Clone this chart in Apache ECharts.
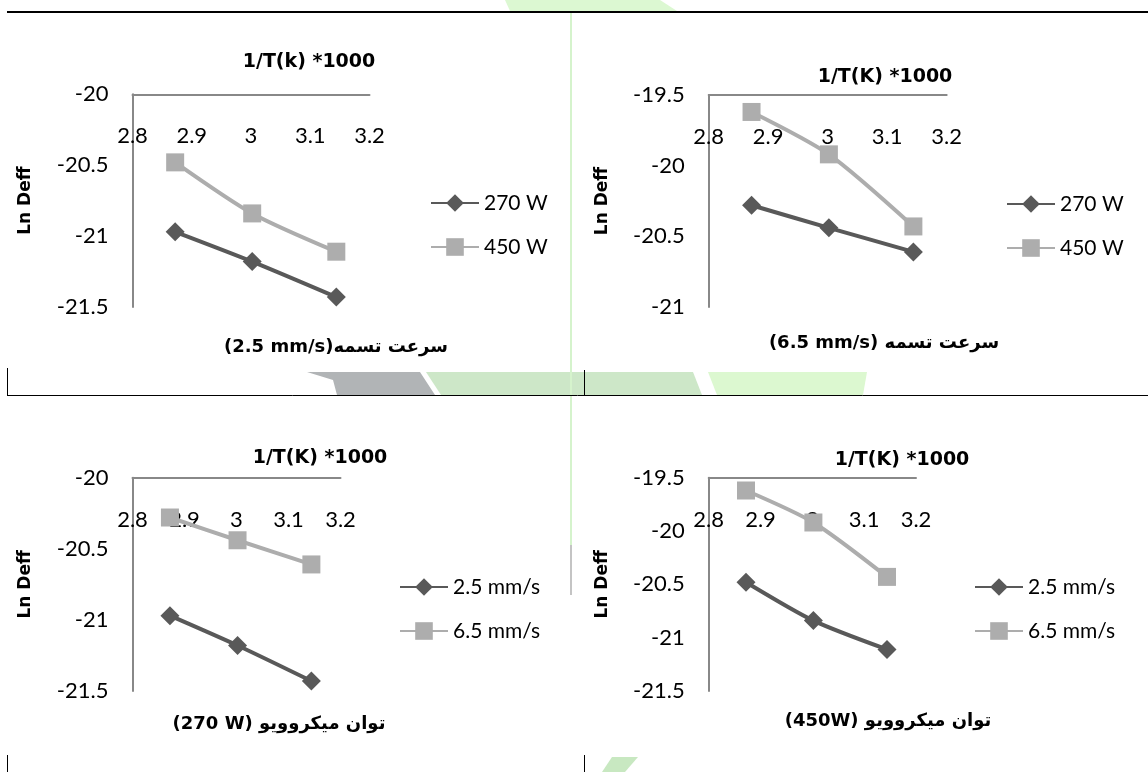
<!DOCTYPE html>
<html>
<head>
<meta charset="utf-8">
<script src="https://cdn.jsdelivr.net/npm/echarts@6/dist/echarts.min.js"></script>
<style>
html,body{margin:0;padding:0;background:#fff;}
#c{width:1148px;height:772px;}
</style>
</head>
<body>
<div id="c"></div>
<script>
// ---- data ----
const xTicks = [2.8, 2.9, 3.0, 3.1, 3.2];
const xValues = [2.872, 3.002, 3.144];          // 1/T(K)*1000
const p270_v25 = [-20.97, -21.18, -21.43];      // 270 W, belt 2.5 mm/s
const p450_v25 = [-20.48, -20.84, -21.11];      // 450 W, belt 2.5 mm/s
const p270_v65 = [-20.28, -20.44, -20.61];      // 270 W, belt 6.5 mm/s
const p450_v65 = [-19.62, -19.92, -20.43];      // 450 W, belt 6.5 mm/s
const yRanges = [[-21.5, -20], [-21, -19.5], [-21.5, -20], [-21.5, -19.5]];
const xTitles = ['1/T(k) *1000', '1/T(K) *1000', '1/T(K) *1000', '1/T(K) *1000'];
const bottomTitles = ['(2.5 mm/s)سرعت تسمه', '(6.5 mm/s) سرعت تسمه', '(270 W) توان میکروویو', '(450W) توان میکروویو'];
const yName = 'Ln Deff';
const legendNames = [['270 W', '450 W'], ['270 W', '450 W'], ['2.5 mm/s', '6.5 mm/s'], ['2.5 mm/s', '6.5 mm/s']];
const seriesData = [[p270_v25, p450_v25], [p270_v65, p450_v65], [p270_v25, p270_v65], [p450_v25, p450_v65]];

// ---- layout / style ----
const DARK = '#595959', LIGHT = '#ADADAD', AX = '#888888';
const grids = [
  {left: 132.5, top: 94.3, width: 237, height: 212.7},
  {left: 708.7, top: 95, width: 238, height: 212},
  {left: 132.5, top: 477.7, width: 208, height: 213.3},
  {left: 708.7, top: 477.7, width: 207.3, height: 213.3}
];
const legendPos = [{left: 425, c: 198}, {left: 1001, c: 199}, {left: 394, c: 582}, {left: 969, c: 582}];
const titlePos = [[309, 62], [885, 77], [320, 458], [902, 460]];
const bottomPos = [[336, 347], [884, 343], [279, 724], [888, 721]];
const LAB = {fontFamily: 'Lato', fontSize: 22, color: '#000'};
const LEG = {fontFamily: 'Lato', fontSize: 21, color: '#000'};
const BOLD = {fontFamily: 'DejaVu Sans', fontWeight: 'bold', fontSize: 17, color: '#000'};

const option = {
  backgroundColor: '#fff',
  animation: false,
  grid: grids.map(g => Object.assign({outerBoundsMode: 'none', containLabel: false}, g)),
  xAxis: grids.map((g, i) => ({
    gridIndex: i, type: 'value', position: 'top', min: xTicks[0], max: xTicks[xTicks.length - 1], interval: 0.1,
    axisLine: {show: true, onZero: false, lineStyle: {color: AX, width: 2}},
    axisTick: {show: false}, splitLine: {show: false},
    axisLabel: Object.assign({inside: true, margin: 31, formatter: v => String(Math.round(v * 10) / 10)}, LAB)
  })),
  yAxis: grids.map((g, i) => ({
    gridIndex: i, type: 'value', min: yRanges[i][0], max: yRanges[i][1], interval: 0.5,
    axisLine: {show: true, onZero: false, lineStyle: {color: AX, width: 2}},
    axisTick: {show: false}, splitLine: {show: false},
    axisLabel: Object.assign({margin: 24}, LAB),
    name: yName, nameLocation: 'middle', nameGap: 98, nameRotate: 90,
    nameTextStyle: Object.assign({}, BOLD)
  })),
  legend: legendPos.map((p, i) => ({
    orient: 'vertical', left: p.left, top: p.c - 13, itemWidth: 48, itemHeight: 22, itemGap: 18,
    data: legendNames[i], textStyle: Object.assign({lineHeight: 26}, LEG), selectedMode: false
  })),
  series: [],
  graphic: []
};

seriesData.forEach((pair, i) => {
  pair.forEach((vals, k) => {
    option.series.push({
      type: 'line', name: legendNames[i][k], xAxisIndex: i, yAxisIndex: i,
      data: xValues.map((x, j) => [x, vals[j]]),
      smooth: 0.25,
      symbol: k === 0 ? 'diamond' : 'rect', symbolSize: k === 0 ? 19 : 18,
      lineStyle: {color: k === 0 ? DARK : LIGHT, width: 4},
      itemStyle: {color: k === 0 ? DARK : LIGHT},
      z: 3 + k
    });
  });
});

// background watermark and page lines
const G = option.graphic;
const poly = (pts, fill) => G.push({type: 'polygon', z: -10, silent: true, shape: {points: pts}, style: {fill: fill}});
const line = (x1, y1, x2, y2, w, c) => G.push({type: 'line', z: -5, silent: true, shape: {x1, y1, x2, y2}, style: {stroke: c, lineWidth: w}});
poly([[505, 0], [660, 0], [677, 11], [510, 11]], '#dcf8d2');
poly([[307, 372], [420, 372], [435, 395], [337, 395], [333, 380]], '#b1b4b6');
poly([[426, 372], [693, 372], [702, 395], [441, 395]], '#cde7c8');
poly([[708, 372], [867, 372], [863, 395], [717, 395]], '#dcf8d0');
poly([[612, 757], [638, 757], [625, 772], [602, 772]], '#c8e8c1');
line(571, 12, 571, 545, 2, '#d5f3cc');
line(571, 545, 571, 595, 2, '#c4c4c4');
line(7, 12, 1148, 12, 2, '#000');
line(7, 395.5, 1148, 395.5, 1, '#000');
line(7.5, 368, 7.5, 396, 1, '#000');
line(584.5, 370, 584.5, 396, 1, '#000');
line(7.5, 755, 7.5, 772, 1, '#000');
line(584.5, 755, 584.5, 772, 1, '#000');

titlePos.forEach((p, i) => G.push({type: 'text', z: 10, x: p[0], y: p[1],
  style: {text: xTitles[i], textAlign: 'center', textVerticalAlign: 'middle',
    font: 'bold 19px "DejaVu Sans"', fill: '#000'}}));
bottomPos.forEach((p, i) => G.push({type: 'text', z: 10, x: p[0], y: p[1],
  style: {text: bottomTitles[i], textAlign: 'center', textVerticalAlign: 'middle',
    font: 'bold 18px "DejaVu Sans"', fill: '#000'}}));

const chart = echarts.init(document.getElementById('c'), null, {renderer: 'canvas'});
chart.setOption(option);
</script>
</body>
</html>
